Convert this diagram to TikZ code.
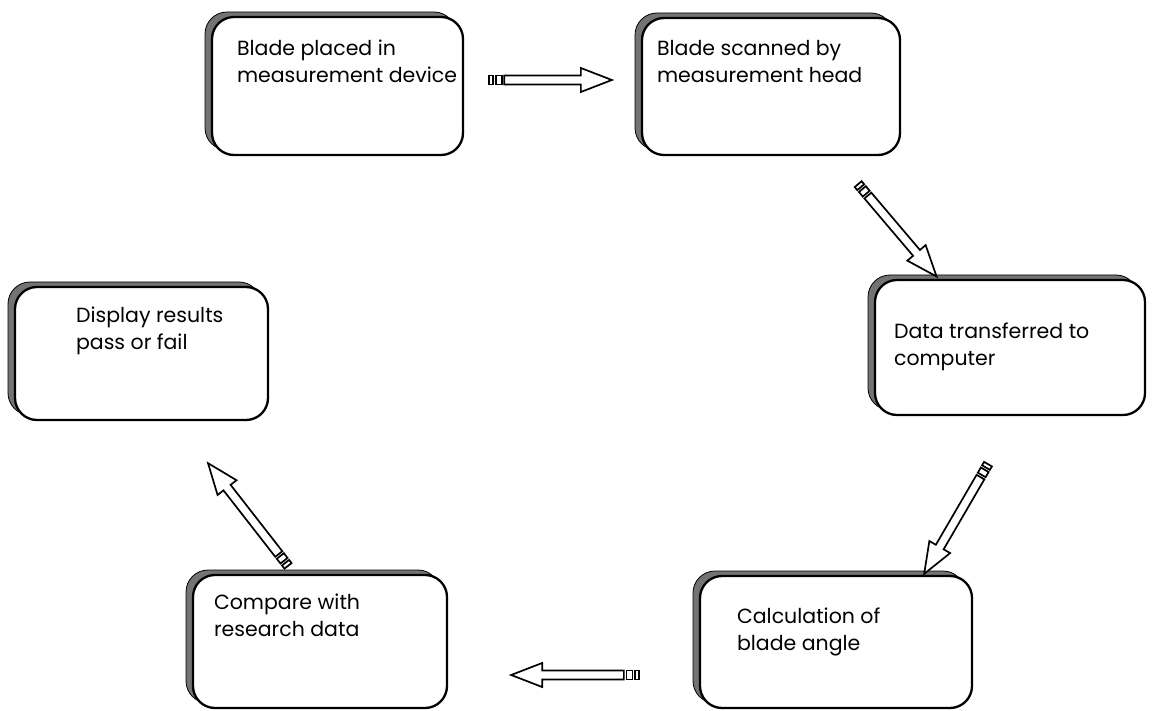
\documentclass[tikz,border=0pt]{standalone}
\usepackage{fontspec}
\setmainfont{Poppins}
\usetikzlibrary{calc}
\usetikzlibrary{positioning}
\usetikzlibrary{shadows}
\tikzset{
stage/.style={draw,
  line width=2.3pt,
    fill=white,
    rounded corners=22pt,
    drop shadow={shadow xshift=-7pt, shadow yshift=5pt,
      fill=black!55, draw=black, line width=0.8pt, opacity=1}},
stagetext/.style={anchor=north west,
  inner sep=0pt,
    align=left,
    font=\fontsize{20.5}{27}\selectfont},
blockarrow/.style={draw,
  line width=1.7pt,
    fill=white,
    line join=miter},
}

% hollow arrow with two small blocks at its tail, drawn from #1 to #2
\newcommand{\stripearrow}[2]{%
  \path let \p1=($(#2)-(#1)$) in
    \pgfextra{\pgfmathsetmacro\arrowang{atan2(\y1,\x1)}%
      \pgfmathsetmacro\arrowlen{veclen(\x1,\y1)}%
      \xdef\arrowang{\arrowang}\xdef\arrowlen{\arrowlen}};
  \begin{scope}[shift={(#1)}, rotate=\arrowang, x=1pt, y=1pt]
    \draw [blockarrow] (0,-4.5) rectangle (4,4.5);
    \draw [blockarrow] (6.5,-4.5) rectangle (12.5,4.5);
    \draw [blockarrow] (15,-4.5) -- (\arrowlen-31,-4.5) -- (\arrowlen-31,-12)
      -- (\arrowlen,0) -- (\arrowlen-31,12) -- (\arrowlen-31,4.5) -- (15,4.5) -- cycle;
  \end{scope}}

\begin{document}
\begin{tikzpicture}[x=1pt, y=-1pt]
  \useasboundingbox (0,0) rectangle (1154,711);

  % Stages
  \node [stage, minimum width=251pt, minimum height=138pt] (place) at (337.5,86) {};
  \node [stage, minimum width=258pt, minimum height=137pt] (scan) at (771,86.5) {};
  \node [stage, minimum width=270pt, minimum height=135pt] (transfer) at (1010,347.5) {};
  \node [stage, minimum width=272pt, minimum height=132pt] (calcangle) at (836,642) {};
  \node [stage, minimum width=254pt, minimum height=133pt] (compare) at (320,641.5) {};
  \node [stage, minimum width=253pt, minimum height=133pt] (display) at (141.5,353.5) {};

  % Stage labels
  \node [stagetext] (placetext) at ([shift={(26,24)}]place.north west) {Blade placed in\\measurement device};
  \node [stagetext] (scantext) at ([shift={(16,23)}]scan.north west) {Blade scanned by\\measurement head};
  \node [stagetext] (transfertext) at ([shift={(20,44)}]transfer.north west) {Data transferred to\\computer};
  \node [stagetext] (calcangletext) at ([shift={(38,33)}]calcangle.north west) {Calculation of\\blade angle};
  \node [stagetext] (comparetext) at ([shift={(22,20)}]compare.north west) {Compare with\\research data};
  \node [stagetext] (displaytext) at ([shift={(62,21)}]display.north west) {Display results\\pass or fail};

  % Arrow ends
  \coordinate (a1s) at ([shift={(25,-6)}]place.east);
  \coordinate (a1e) at ([shift={(-29,-6.5)}]scan.west);
  \coordinate (a2s) at ([shift={(-43,28)}]scan.south east);
  \coordinate (a2e) at ([shift={(63,-2)}]transfer.north west);
  \coordinate (a3s) at ([shift={(-22,48)}]transfer.south);
  \coordinate (a3e) at ([shift={(-49,-1)}]calcangle.north east);
  \coordinate (a4s) at ([shift={(-60,33)}]calcangle.west);
  \coordinate (a4e) at ([shift={(63,33.5)}]compare.east);
  \coordinate (a5s) at ([shift={(-32,-8)}]compare.north);
  \coordinate (a5e) at ([shift={(66.5,42)}]display.south);

  % Arrows
  \stripearrow{a1s}{a1e}
  \stripearrow{a2s}{a2e}
  \stripearrow{a3s}{a3e}
  \stripearrow{a4s}{a4e}
  \stripearrow{a5s}{a5e}
\end{tikzpicture}
\end{document}
